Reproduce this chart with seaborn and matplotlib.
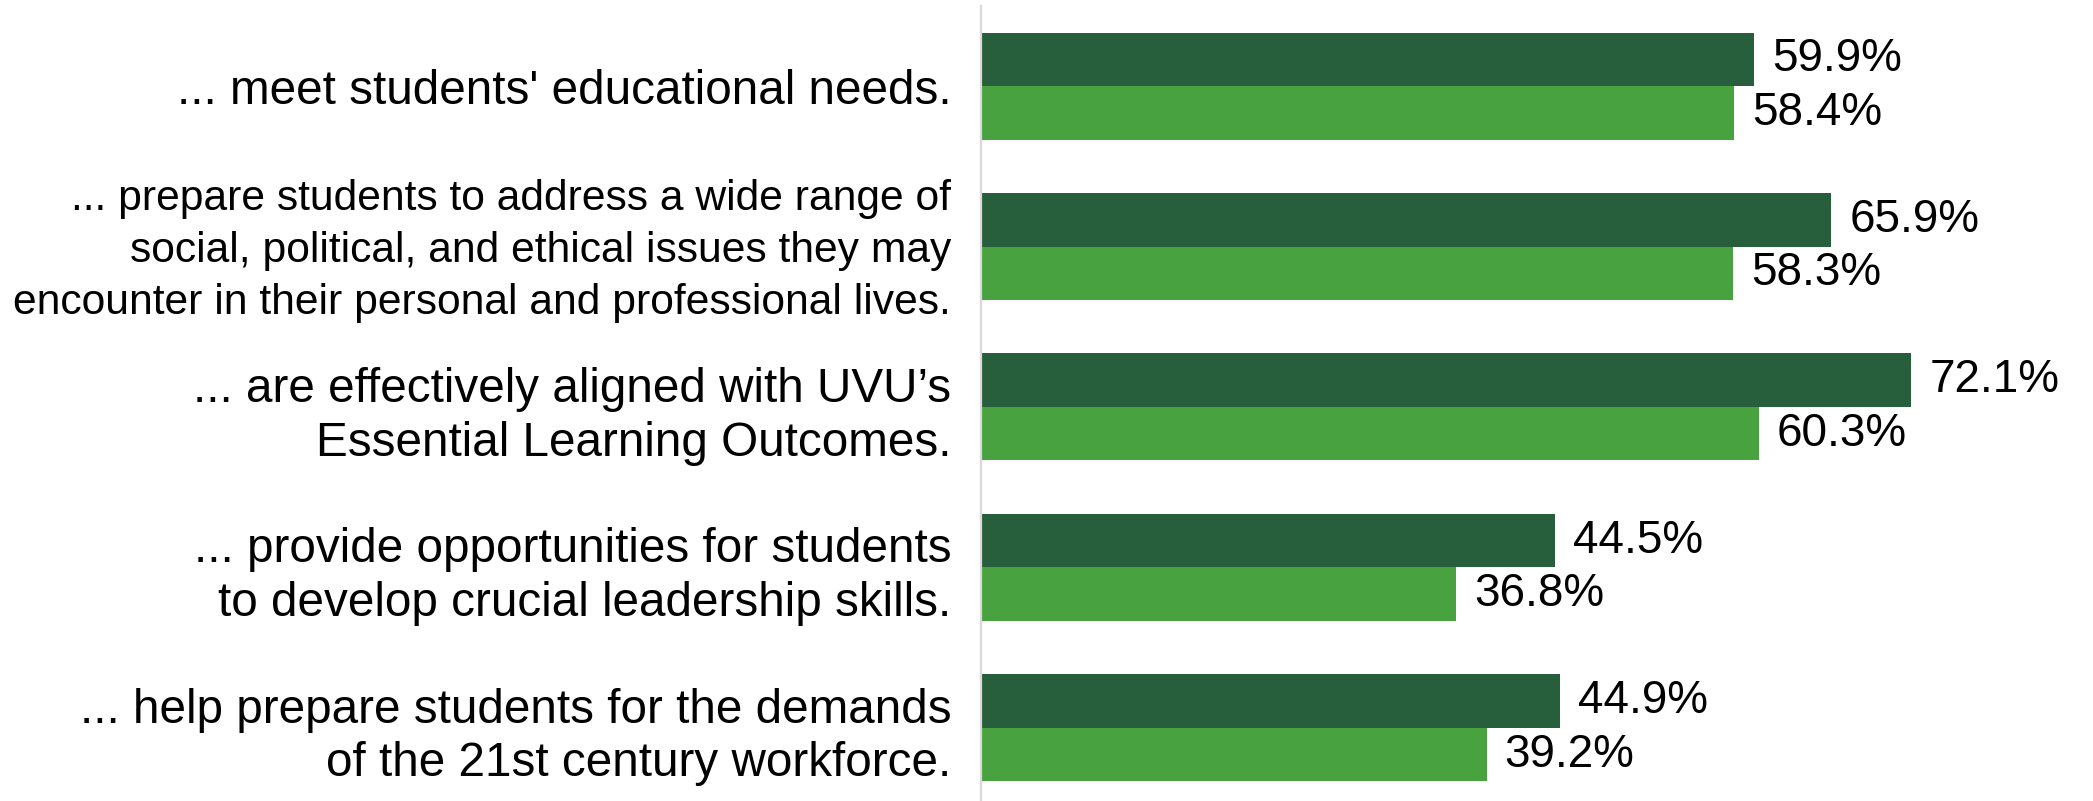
import matplotlib
matplotlib.use("Agg")
import matplotlib.pyplot as plt
import matplotlib.transforms as mtransforms
import seaborn as sns
import pandas as pd

categories = [
    "... meet students' educational needs.",
    "... prepare students to address a wide range of\nsocial, political, and ethical issues they may\nencounter in their personal and professional lives.",
    "... are effectively aligned with UVU\u2019s\nEssential Learning Outcomes.",
    "... provide opportunities for students\nto develop crucial leadership skills.",
    "... help prepare students for the demands\nof the 21st century workforce.",
]
series_names = ["Series 1", "Series 2"]
series1 = [59.9, 65.9, 72.1, 44.5, 44.9]
series2 = [58.4, 58.3, 60.3, 36.8, 39.2]
colors = ["#275E3B", "#48A23F"]

df = pd.DataFrame({
    "category": categories * 2,
    "series": [series_names[0]] * len(categories) + [series_names[1]] * len(categories),
    "value": series1 + series2,
})

sns.set_theme(style="white")
plt.rcParams["font.family"] = ["Liberation Sans", "DejaVu Sans"]

fig = plt.figure(figsize=(20.93, 8.01), dpi=100)
ax = fig.add_axes([981 / 2093, -0.0087, 1 - 981 / 2093, 1.0012])

sns.barplot(data=df, x="value", y="category", hue="series", orient="h",
            palette=colors, width=0.667, gap=0, linewidth=0, saturation=1,
            legend=False, ax=ax)

ax.set_xlim(0, 86.2)
ax.set_xlabel("")
ax.set_ylabel("")
ax.set_xticks([])
for s in ["top", "right", "bottom"]:
    ax.spines[s].set_visible(False)
ax.spines["left"].set_color("#D9D9D9")
ax.spines["left"].set_linewidth(1.6)
ax.tick_params(axis="y", length=0, pad=21.5)

for i, lab in enumerate(ax.get_yticklabels()):
    txt = lab.get_text()
    if txt == categories[1]:
        lab.set_fontsize(30.7)
        lab.set_linespacing(1.39)
        lab.set_transform(lab.get_transform() + mtransforms.ScaledTranslation(0, 6 / 100, fig.dpi_scale_trans))
    else:
        lab.set_fontsize(34.3)
        lab.set_linespacing(1.245)
    lab.set_color("black")
    lab.set_horizontalalignment("right")

for cont in ax.containers:
    ax.bar_label(cont, labels=[f"{v:.1f}%" for v in cont.datavalues],
                 padding=13, fontsize=33, color="black")

fig.savefig("out.png", dpi=100)
